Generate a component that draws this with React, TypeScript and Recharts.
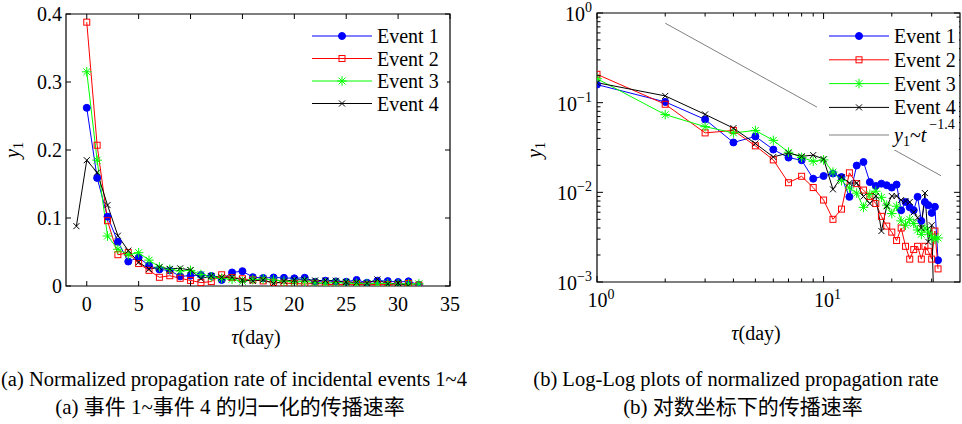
import React from 'react';
import { LineChart, Line, XAxis, YAxis, ReferenceArea } from 'recharts';

// propagation rate per day after the event (tau)
const TAU = [-1, 0, 1, 2, 3, 4, 5, 6, 7, 8, 9, 10, 11, 12, 13, 14, 15, 16, 17, 18, 19, 20, 21, 22, 23, 24, 25, 26, 27, 28, 29, 30, 31, 32];
const EVENT_1 = [null, 0.262, 0.159, 0.102, 0.065, 0.036, 0.042, 0.030, 0.0244, 0.0228, 0.0142, 0.0152, 0.0162, 0.0148, 0.0089, 0.0199, 0.0218, 0.0130, 0.0118, 0.0125, 0.0120, 0.0113, 0.0122, 0.0063, 0.0078, 0.0068, 0.0063, 0.0089, 0.0048, 0.0078, 0.0072, 0.0059, 0.0069, 0.00175];
const EVENT_2 = [null, 0.388, 0.207, 0.096, 0.046, 0.049, 0.033, 0.023, 0.0128, 0.0151, 0.0113, 0.0082, 0.0050, 0.0065, 0.0165, 0.0125, 0.0106, 0.0090, 0.0075, 0.0054, 0.0042, 0.0036, 0.0029, 0.0040, 0.0025, 0.0018, 0.0023, 0.0025, 0.0018, 0.0025, 0.0022, 0.0018, 0.0037, 0.0014];
const EVENT_3 = [null, 0.315, 0.185, 0.0735, 0.054, 0.046, 0.049, 0.038, 0.028, 0.0245, 0.0222, 0.023, 0.0168, 0.0135, 0.0112, 0.0098, 0.0068, 0.0095, 0.0103, 0.0088, 0.0072, 0.0058, 0.0070, 0.0048, 0.0043, 0.0050, 0.0045, 0.0038, 0.0034, 0.0040, 0.0036, 0.0032, 0.0030, 0.0031];
const EVENT_4 = [0.088, 0.185, 0.167, 0.119, 0.074, 0.052, 0.035, 0.0248, 0.0275, 0.0252, 0.026, 0.0235, 0.0108, 0.0148, 0.0127, 0.0127, 0.0090, 0.0075, 0.0091, 0.0037, 0.0070, 0.0091, 0.0091, 0.0082, 0.0080, 0.0078, 0.0060, 0.0052, 0.0040, 0.0098, 0.0028, 0.0043, 0.0002, null];

// reference slope y1 ~ t^-1.4 (end points)
const POWER_TAU = [2, 33];
const POWER_Y = [0.77, 0.0153];

const SERIES = [
  { key: 'e1', name: 'Event 1', color: '#0000ff', shape: 'circle' },
  { key: 'e2', name: 'Event 2', color: '#ff0000', shape: 'square' },
  { key: 'e3', name: 'Event 3', color: '#00ff00', shape: 'star' },
  { key: 'e4', name: 'Event 4', color: '#000000', shape: 'cross' },
];

const LIN_X_TICKS = [0, 5, 10, 15, 20, 25, 30, 35];
const LIN_Y_TICKS = [0, 0.1, 0.2, 0.3, 0.4];
const LOG_X_TICKS = [1, 2, 3, 4, 5, 6, 7, 8, 9, 10, 20, 30];
const LOG_Y_TICKS = [
  0.001, 0.002, 0.003, 0.004, 0.005, 0.006, 0.007, 0.008, 0.009,
  0.01, 0.02, 0.03, 0.04, 0.05, 0.06, 0.07, 0.08, 0.09,
  0.1, 0.2, 0.3, 0.4, 0.5, 0.6, 0.7, 0.8, 0.9, 1,
];

const rows = TAU.map((tau, i) => ({ tau, e1: EVENT_1[i], e2: EVENT_2[i], e3: EVENT_3[i], e4: EVENT_4[i] }));
const logRows = rows.filter((r) => r.tau >= 1);
const powerRows = POWER_TAU.map((tau, i) => ({ tau, y: POWER_Y[i] }));

const SERIF = '"Liberation Serif", "Times New Roman", serif';
const CJK = '"Liberation Serif", "Noto Sans CJK SC", serif';
const FS = 20;

// plot boxes (local chart coords)
const L = { top: 14, bottom: 286, left: 66, right: 450 };
const R = { top: 13, bottom: 282, left: 117, right: 480 };

const Marker = ({ shape, cx, cy, color }: any) => {
  if (shape === 'circle') return <circle cx={cx} cy={cy} r={3.5} fill={color} stroke={color} />;
  if (shape === 'square') return <rect x={cx - 3} y={cy - 3} width={6} height={6} fill="none" stroke={color} strokeWidth={1} />;
  if (shape === 'star') {
    const s = 4.8, d = 3.4;
    return (
      <g stroke={color} strokeWidth={1}>
        <line x1={cx - s} y1={cy} x2={cx + s} y2={cy} />
        <line x1={cx} y1={cy - s} x2={cx} y2={cy + s} />
        <line x1={cx - d} y1={cy - d} x2={cx + d} y2={cy + d} />
        <line x1={cx - d} y1={cy + d} x2={cx + d} y2={cy - d} />
      </g>
    );
  }
  const d = 3;
  return (
    <g stroke={color} strokeWidth={1}>
      <line x1={cx - d} y1={cy - d} x2={cx + d} y2={cy + d} />
      <line x1={cx - d} y1={cy + d} x2={cx + d} y2={cy - d} />
    </g>
  );
};

const dotFor = (shape: string, color: string) => (p: any) => {
  if (p.cx == null || p.cy == null || p.value == null) return <g key={p.index} />;
  return <Marker key={p.index} shape={shape} color={color} cx={p.cx} cy={p.cy} />;
};

const LinXTick = ({ x, payload }: any) => (
  <g>
    <line x1={x} x2={x} y1={L.bottom} y2={L.bottom - 5} stroke="#000" />
    <line x1={x} x2={x} y1={L.top} y2={L.top + 5} stroke="#000" />
    <text x={x} y={L.bottom + 25} textAnchor="middle" fontSize={FS} fontFamily={SERIF} fill="#000">{payload.value}</text>
  </g>
);

const LinYTick = ({ y, payload }: any) => (
  <g>
    <line x1={L.left} x2={L.left + 5} y1={y} y2={y} stroke="#000" />
    <line x1={L.right} x2={L.right - 5} y1={y} y2={y} stroke="#000" />
    <text x={L.left - 4} y={y + 7} textAnchor="end" fontSize={FS} fontFamily={SERIF} fill="#000">{payload.value === 0 ? '0' : payload.value}</text>
  </g>
);

const expOf = (v: number) => {
  const lg = Math.log10(v);
  const e = Math.round(lg);
  return { e, major: Math.abs(lg - e) < 1e-6 };
};

const expLabel = (e: number) => (e < 0 ? '\u2212' + -e : String(e));

const LogXTick = ({ x, payload }: any) => {
  const { e, major } = expOf(payload.value);
  const len = major ? 6 : 3.5;
  return (
    <g>
      <line x1={x} x2={x} y1={R.bottom} y2={R.bottom - len} stroke="#000" />
      <line x1={x} x2={x} y1={R.top} y2={R.top + len} stroke="#000" />
      {major && (
        <text x={x + 4} y={R.bottom + 25} textAnchor="middle" fontSize={FS} fontFamily={SERIF} fill="#000">
          <tspan>10</tspan>
          <tspan dy={-8} fontSize={14}>{expLabel(e)}</tspan>
        </text>
      )}
    </g>
  );
};

const LogYTick = ({ y, payload }: any) => {
  const { e, major } = expOf(payload.value);
  const len = major ? 6 : 3.5;
  return (
    <g>
      <line x1={R.left} x2={R.left + len} y1={y} y2={y} stroke="#000" />
      <line x1={R.right} x2={R.right - len} y1={y} y2={y} stroke="#000" />
      {major && (
        <text x={R.left - 5} y={y + 8} textAnchor="end" fontSize={FS} fontFamily={SERIF} fill="#000">
          <tspan>10</tspan>
          <tspan dy={-9} fontSize={14}>{expLabel(e)}</tspan>
        </text>
      )}
    </g>
  );
};

const LegendRows = ({ x, y, gap }: any) => (
  <g>
    {SERIES.map((s, i) => (
      <g key={s.key}>
        <line x1={x} x2={x + 60} y1={y + i * gap} y2={y + i * gap} stroke={s.color} strokeWidth={1} />
        <Marker shape={s.shape} color={s.color} cx={x + 30} cy={y + i * gap} />
        <text x={x + 65} y={y + i * gap + 7} fontSize={FS} fontFamily={SERIF} fill="#000">{s.name}</text>
      </g>
    ))}
  </g>
);

const App: React.FC = () => {
  return (
    <div style={{ position: 'absolute', left: 0, top: 0, width: 962, height: 424, background: '#fff', overflow: 'hidden' }}>
      <div style={{ position: 'absolute', left: 0, top: 0 }}>
        <LineChart width={480} height={330} data={rows} margin={{ top: L.top, right: 480 - L.right, bottom: 0, left: 0 }}>
          <XAxis dataKey="tau" type="number" domain={[-2, 35]} ticks={LIN_X_TICKS} interval={0} allowDataOverflow
            height={330 - L.bottom} axisLine={false} tickLine={false} tickSize={0} tick={<LinXTick />} />
          <YAxis type="number" domain={[0, 0.4]} ticks={LIN_Y_TICKS} interval={0} allowDataOverflow
            width={L.left} axisLine={false} tickLine={false} tickSize={0} tick={<LinYTick />} />
          <ReferenceArea x1={-2} x2={35} y1={0} y2={0.4} fill="none" stroke="#000" strokeWidth={1.2} />
          {SERIES.map((s) => (
            <Line key={s.key} dataKey={s.key} name={s.name} stroke={s.color} strokeWidth={1}
              dot={dotFor(s.shape, s.color)} activeDot={false} isAnimationActive={false} />
          ))}
        </LineChart>
      </div>
      <div style={{ position: 'absolute', left: 480, top: 0 }}>
        <LineChart width={482} height={330} data={logRows} margin={{ top: R.top, right: 482 - R.right, bottom: 0, left: 0 }}>
          <XAxis dataKey="tau" type="number" scale="log" domain={[1, 40]} ticks={LOG_X_TICKS} interval={0} allowDataOverflow
            height={330 - R.bottom} axisLine={false} tickLine={false} tickSize={0} tick={<LogXTick />} />
          <YAxis type="number" scale="log" domain={[0.001, 1]} ticks={LOG_Y_TICKS} interval={0} allowDataOverflow
            width={R.left} axisLine={false} tickLine={false} tickSize={0} tick={<LogYTick />} />
          <ReferenceArea x1={1} x2={40} y1={0.001} y2={1} fill="none" stroke="#000" strokeWidth={1.2} />
          <Line data={powerRows} dataKey="y" name="power law" stroke="#808080" strokeWidth={1} dot={false}
            activeDot={false} isAnimationActive={false} />
          {SERIES.map((s) => (
            <Line key={s.key} dataKey={s.key} name={s.name} stroke={s.color} strokeWidth={1}
              dot={dotFor(s.shape, s.color)} activeDot={false} isAnimationActive={false} />
          ))}
        </LineChart>
      </div>
      <svg width={962} height={424} style={{ position: 'absolute', left: 0, top: 0, pointerEvents: 'none' }}>
        {/* legends */}
        <rect x={305} y={22} width={142} height={94} fill="#fff" />
        <LegendRows x={312} y={36} gap={22.5} />
        <rect x={817} y={20} width={142} height={130} fill="#fff" />
        <LegendRows x={829} y={36} gap={23.8} />
        <line x1={829} x2={889} y1={135} y2={135} stroke="#808080" strokeWidth={1} />
        <text x={894} y={142} fontSize={FS} fontFamily={SERIF} fill="#000">
          <tspan fontStyle="italic">y</tspan>
          <tspan fontSize={14} dy={4}>1</tspan>
          <tspan dy={-4}>~</tspan>
          <tspan fontStyle="italic">t</tspan>
          <tspan fontSize={14} dy={-13} dx={3}>{'\u22121.4'}</tspan>
        </text>
        {/* axis titles */}
        <text transform="translate(19,150) rotate(-90)" textAnchor="middle" fontSize={FS} fontFamily={SERIF} fill="#000">
          <tspan fontStyle="italic">y</tspan><tspan fontSize={14} dy={4}>1</tspan>
        </text>
        <text transform="translate(541,150) rotate(-90)" textAnchor="middle" fontSize={FS} fontFamily={SERIF} fill="#000">
          <tspan fontStyle="italic">y</tspan><tspan fontSize={14} dy={4}>1</tspan>
        </text>
        <text x={256} y={344} textAnchor="middle" fontSize={FS} fontFamily={SERIF} fill="#000">
          <tspan fontStyle="italic">τ</tspan><tspan>(day)</tspan>
        </text>
        <text x={756} y={340} textAnchor="middle" fontSize={FS} fontFamily={SERIF} fill="#000">
          <tspan fontStyle="italic">τ</tspan><tspan>(day)</tspan>
        </text>
        {/* captions */}
        <text x={1} y={386} textAnchor="start" fontSize={20.5} fontFamily={SERIF} fill="#000">(a) Normalized propagation rate of incidental events 1~4</text>
        <text x={736} y={386} textAnchor="middle" fontSize={20.5} fontFamily={SERIF} fill="#000">(b) Log-Log plots of normalized propagation rate</text>
        <text x={230} y={414} textAnchor="middle" fontSize={21} fontFamily={CJK} fill="#000">(a) 事件 1~事件 4 的归一化的传播速率</text>
        <text x={743} y={414} textAnchor="middle" fontSize={21} fontFamily={CJK} fill="#000">(b) 对数坐标下的传播速率</text>
      </svg>
    </div>
  );
};

export default App;
